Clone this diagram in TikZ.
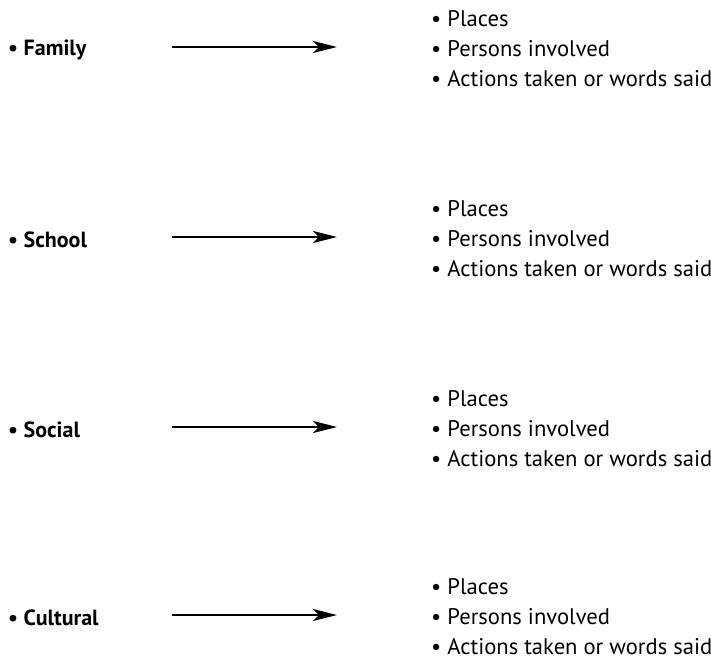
\documentclass[tikz,border=0pt]{standalone}
\usepackage{fontspec}
\setmainfont{PT Sans}
\usetikzlibrary{arrows.meta}
\begin{document}
\begin{tikzpicture}[x=1pt,y=-1pt,
    topic/.style={anchor=west,inner sep=0pt,font=\bfseries\fontsize{22}{30}\selectfont},
    items/.style={anchor=west,inner sep=0pt,align=left,font=\fontsize{22.6}{30}\selectfont},
    link/.style={line width=2.2pt,-{Stealth[length=24pt,width=12pt,inset=6pt]}}]
\useasboundingbox (0,0) rectangle (711,661);
%Each row: a topic on the left, an arrow, and the list
% of what to note on the right
\node[topic] (family) at (8,50) {\textbullet\ Family};
\node[items] (familylist) at (431,49)
    {\textbullet\ Places\\ \textbullet\ Persons involved\\ \textbullet\ Actions taken or words said};
\coordinate (familyfrom) at (172,47);
\coordinate (familyto) at (337,47);
\draw[link] (familyfrom) -- (familyto);

\node[topic] (school) at (8,240) {\textbullet\ School};
\node[items] (schoollist) at (431,239)
    {\textbullet\ Places\\ \textbullet\ Persons involved\\ \textbullet\ Actions taken or words said};
\coordinate (schoolfrom) at (172,237);
\coordinate (schoolto) at (337,237);
\draw[link] (schoolfrom) -- (schoolto);

\node[topic] (social) at (8,430) {\textbullet\ Social};
\node[items] (sociallist) at (431,429)
    {\textbullet\ Places\\ \textbullet\ Persons involved\\ \textbullet\ Actions taken or words said};
\coordinate (socialfrom) at (172,427);
\coordinate (socialto) at (337,427);
\draw[link] (socialfrom) -- (socialto);

\node[topic] (cultural) at (8,618) {\textbullet\ Cultural};
\node[items] (culturallist) at (431,617)
    {\textbullet\ Places\\ \textbullet\ Persons involved\\ \textbullet\ Actions taken or words said};
\coordinate (culturalfrom) at (172,615);
\coordinate (culturalto) at (337,615);
\draw[link] (culturalfrom) -- (culturalto);
\end{tikzpicture}
\end{document}
